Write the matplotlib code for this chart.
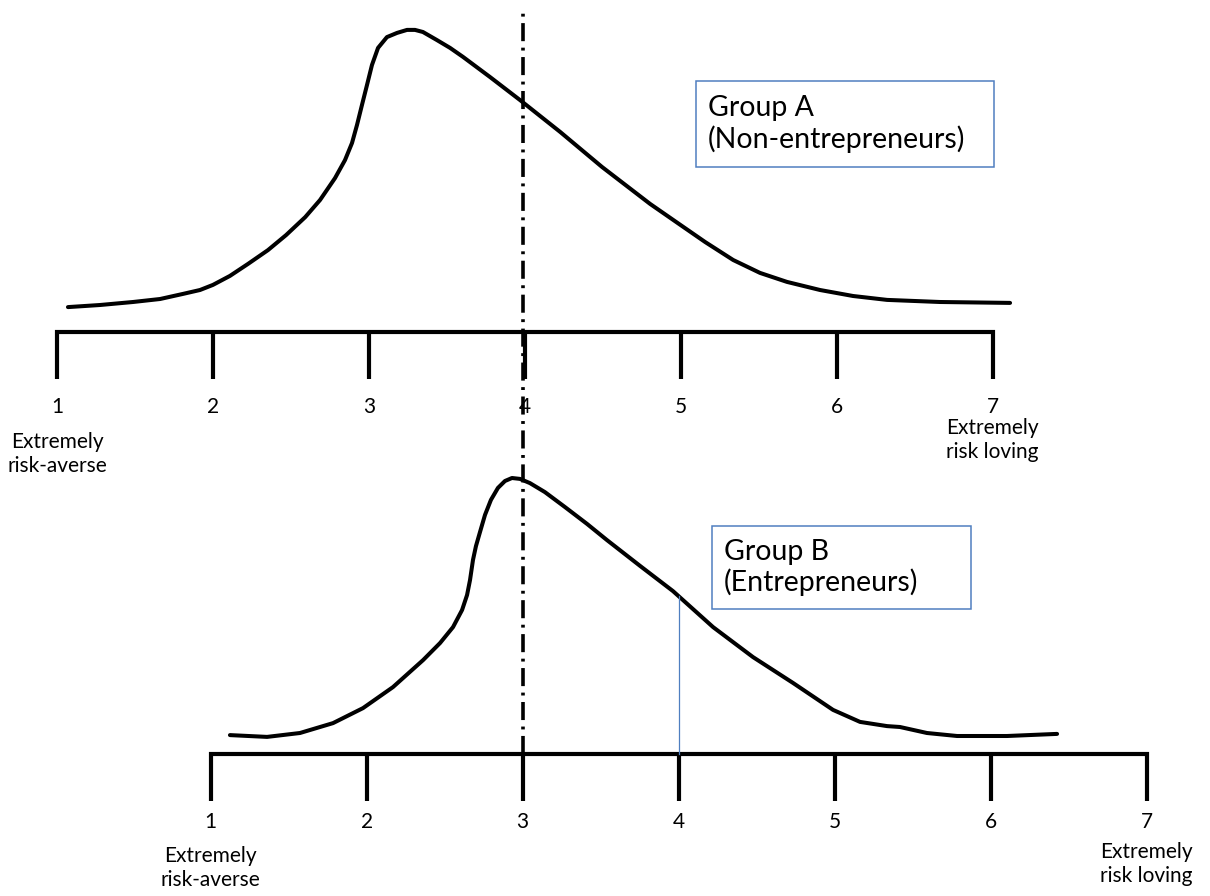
import numpy as np
import matplotlib.pyplot as plt
from matplotlib.patches import Rectangle

plt.rcParams['font.family'] = ['Lato', 'DejaVu Sans']

# 7-point risk attitude scale
scale_points = [1, 2, 3, 4, 5, 6, 7]
low_end_label = "Extremely\nrisk-averse"
high_end_label = "Extremely\nrisk loving"

# Group A (non-entrepreneurs): score vs relative density (hand-drawn curve)
group_a_x = [1.069, 1.275, 1.486, 1.660, 1.807, 1.916, 1.999, 2.108, 2.224, 2.352,
             2.468, 2.591, 2.686, 2.782, 2.846, 2.891, 2.923, 2.955, 2.987, 3.019,
             3.058, 3.115, 3.180, 3.244, 3.295, 3.346, 3.436, 3.520, 3.603, 3.776,
             3.969, 4.226, 4.495, 4.803, 4.989, 5.156, 5.336, 5.508, 5.681, 5.893,
             6.105, 6.323, 6.663, 7.112]
group_a_y = [0.083, 0.090, 0.100, 0.110, 0.127, 0.140, 0.157, 0.187, 0.227, 0.273,
             0.323, 0.383, 0.440, 0.513, 0.573, 0.630, 0.690, 0.757, 0.823, 0.890,
             0.947, 0.983, 0.997, 1.007, 1.007, 1.000, 0.973, 0.947, 0.917, 0.850,
             0.773, 0.667, 0.550, 0.427, 0.360, 0.300, 0.240, 0.197, 0.167, 0.140,
             0.120, 0.107, 0.100, 0.097]
group_a_ref = 4

# Group B (entrepreneurs)
group_b_x = [1.124, 1.362, 1.573, 1.785, 1.977, 2.169, 2.362, 2.471, 2.554, 2.612,
             2.644, 2.663, 2.682, 2.701, 2.727, 2.759, 2.797, 2.842, 2.887, 2.932,
             2.983, 3.047, 3.143, 3.272, 3.413, 3.541, 3.753, 3.964, 4.221, 4.477,
             4.733, 4.990, 5.163, 5.336, 5.419, 5.592, 5.785, 6.105, 6.426]
group_b_y = [0.063, 0.057, 0.070, 0.103, 0.153, 0.223, 0.313, 0.370, 0.423, 0.480,
             0.530, 0.580, 0.647, 0.693, 0.740, 0.797, 0.847, 0.887, 0.910, 0.920,
             0.917, 0.903, 0.873, 0.823, 0.767, 0.713, 0.627, 0.543, 0.423, 0.323,
             0.237, 0.147, 0.107, 0.093, 0.090, 0.070, 0.060, 0.060, 0.067]
group_b_ref = 3
group_b_mark = 4

group_a_label = "Group A\n(Non-entrepreneurs)"
group_b_label = "Group B\n(Entrepreneurs)"

W, H = 1210, 896
UNIT = 300.0  # pixels per density unit
BLUE = '#4F7FC0'

fig = plt.figure(figsize=(W / 100, H / 100), dpi=100)


def make_axes(x1_px, px_per_unit, base_px):
    ax = fig.add_axes([0, 0, 1, 1])
    ax.set_xlim(1 - x1_px / px_per_unit, 1 + (W - x1_px) / px_per_unit)
    ax.set_ylim(-(H - base_px) / UNIT, base_px / UNIT)
    ax.axis('off')
    ax.patch.set_alpha(0)
    return ax


def draw_scale(ax, num_dy, low_dy, high_dy):
    tick = 47 / UNIT
    lo, hi = scale_points[0], scale_points[-1]
    ax.plot([lo, lo, hi, hi], [-tick, 0, 0, -tick], color='black', lw=3,
            solid_joinstyle='miter', solid_capstyle='butt')
    for v in scale_points[1:-1]:
        ax.plot([v, v], [-tick, 0], color='black', lw=3, solid_capstyle='butt')
    for v in scale_points:
        ax.text(v, num_dy, str(v), ha='center', va='center', fontsize=15)
    ax.text(lo, low_dy, low_end_label, ha='center', va='center',
            fontsize=15, linespacing=1.25)
    ax.text(hi, high_dy, high_end_label, ha='center', va='center',
            fontsize=15, linespacing=1.25)


def group_box(x0, y0, x1, y1, label):
    fig.add_artist(Rectangle((x0 / W, 1 - y1 / H), (x1 - x0) / W, (y1 - y0) / H,
                             transform=fig.transFigure, fill=False,
                             ec=BLUE, lw=1.1))
    fig.text((x0 + 12) / W, 1 - (y0 + y1) / 2 / H, label, ha='left', va='center',
             fontsize=20.5, linespacing=1.15)


# top panel: group A
ax_a = make_axes(57.2, 155.9, 332)
ax_a.plot(group_a_x, group_a_y, color='black', lw=2.9,
          solid_joinstyle='round', solid_capstyle='round')
draw_scale(ax_a, -0.25, -0.405, -0.36)
group_box(696, 81, 994, 167, group_a_label)

# bottom panel: group B
ax_b = make_axes(210.6, 156.0, 754)
ax_b.plot(group_b_x, group_b_y, color='black', lw=2.9,
          solid_joinstyle='round', solid_capstyle='round')
draw_scale(ax_b, -0.225, -0.38, -0.367)
mark_h = np.interp(group_b_mark, group_b_x, group_b_y)
ax_b.plot([group_b_mark, group_b_mark], [0, mark_h], color=BLUE, lw=0.9)
group_box(712, 526, 971, 609, group_b_label)

# dash-dot reference line through both panels
ax_b.plot([group_b_ref, group_b_ref], [0, (754 - 9) / UNIT], color='black', lw=2.6,
          dash_capstyle='butt', linestyle=(0, (5, 1.8, 0.8, 1.8)))

fig.savefig('out.png', dpi=100)
